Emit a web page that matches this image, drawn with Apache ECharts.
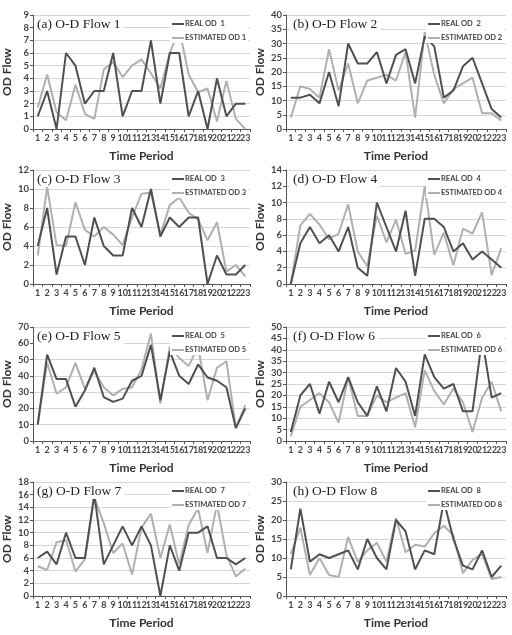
<!DOCTYPE html>
<html>
<head>
<meta charset="utf-8">
<script src="https://cdn.jsdelivr.net/npm/echarts@6/dist/echarts.min.js"></script>
<style>
  html, body { margin: 0; padding: 0; background: #fff; }
  #chart { width: 512px; height: 635px; }
</style>
</head>
<body>
<div id="chart"></div>
<script>
const periods = ['1','2','3','4','5','6','7','8','9','10','11','12','13','14','15','16','17','18','19','20','21','22','23']

const real1 = [1,3,0,6,5,2,3,3,6,1,3,3,7,2,6,6,1,3,0,4,1,2,2]
const est1  = [1.7,4.3,1.3,0.7,3.5,1.2,0.8,4.7,5.3,4.1,5.0,5.5,4.4,3.2,6.0,7.9,4.3,2.9,3.2,0.6,3.8,0.8,0]
const real2 = [11,11,12,9,20,8,30,23,23,27,16,26,28,16,32.5,29,11,13.5,22,25,16,7,4]
const est2  = [4,15,14,11,28,13.5,23,9,17,18,19,17,27,4,34,19,9,14,16,18,5.5,5.5,3]
const real3 = [4,8,1,5,5,2,7,4,3,3,8,6,10,5,7,6,7,7,0,3,1,1,2]
const est3  = [3,10.2,4.1,4,8.6,5.7,5,6,5.2,4.1,7,9.5,9.6,5.2,8.3,9.1,7.5,6.8,4.6,6.5,1.3,2,0.8]
const real4 = [0,5,7,5,6,4,7,2,1,10,7,4,9,1,8,8,7,4,5,3,4,3,2]
const est4  = [0,7.2,8.6,7.3,5.5,6.2,9.8,4,2.2,8.4,5.1,7.9,3.7,4.1,12,3.6,6.3,2.3,6.8,6.2,8.8,1.1,4.4]
const real5 = [10,53,38,38,21,31,45,27,24,26,37,40,59,25,55,40,35,47,39,37,33,8,20]
const est5  = [10,48,29,33,48,32,43,33,28,32,33,44,66,23,58,51,46,58,25,45,49,8,22]
const real6 = [4,20,25,12,26,17,28,17,11,24,13,32,26,11,38,28,23,25,13,13,45,19,21]
const est6  = [2,15,18,21,17,8,28,11,11,20,17,19,21,6,31,22,16,23,17,4,19,26,13]
const real7 = [6,7,5,10,6,6,16,5,8,11,8,11,8,0,8,4,10,10,11,6,6,5,6]
const est7  = [4.7,4.1,8.5,8.8,3.9,5.8,15.5,11.5,6.8,8.3,3.4,10.8,13,6,11.3,5,11.2,13.8,6.8,14.5,6.5,3.1,4.3]
const real8 = [7,23,9,11,10,11,12,7,15,10,7,20,17,7,12,11,25,15,8,7,12,5,8]
const est8  = [11,18,5.5,10,5.5,5,15.5,9,12,14,9,20.5,11.5,13.5,13,16.5,18.5,16,6,9.5,11,4.5,5]

const panelTitles = ['(a) O-D Flow 1','(b) O-D Flow 2','(c) O-D Flow 3','(d) O-D Flow 4',
                     '(e) O-D Flow 5','(f) O-D Flow 6','(g) O-D Flow 7','(h) O-D Flow 8']
const yMax = [9,40,12,14,70,50,18,30]
const yStep = [1,5,2,2,10,5,2,5]
const reals = [real1,real2,real3,real4,real5,real6,real7,real8]
const ests = [est1,est2,est3,est4,est5,est6,est7,est8]

const realColor = '#505050'
const estColor = '#b0b0b0'
const sans = "Lato, 'Liberation Sans', sans-serif"
const colX = [0, 256]
const rowTop = [15, 170, 327, 482]

const grid = [], xAxis = [], yAxis = [], series = [], legend = [], title = []

panelTitles.forEach((t, i) => {
  const cx = colX[i % 2]
  const ry = rowTop[Math.floor(i / 2)]
  grid.push({ left: cx + 30, top: ry, width: 220, height: 114 })
  xAxis.push({
    type: 'category', gridIndex: i, data: periods, boundaryGap: true,
    name: 'Time Period', nameLocation: 'middle', nameGap: 21,
    nameTextStyle: { fontFamily: sans, fontWeight: 'bold', fontSize: 12, color: '#333' },
    axisLine: { lineStyle: { color: '#555' } },
    axisTick: { show: true, length: 3, lineStyle: { color: '#555' } },
    axisLabel: { interval: 0, fontSize: 9, fontWeight: 'bold', margin: 5, color: '#444', fontFamily: sans }
  })
  yAxis.push({
    type: 'value', gridIndex: i, min: 0, max: yMax[i], interval: yStep[i],
    name: 'OD Flow', nameLocation: 'middle', nameGap: 20, nameRotate: 90,
    nameTextStyle: { fontFamily: sans, fontWeight: 'bold', fontSize: 12, color: '#333' },
    axisLine: { show: true, lineStyle: { color: '#555' } },
    axisTick: { show: true, length: 3, lineStyle: { color: '#555' } },
    axisLabel: { fontSize: 9.5, fontWeight: 'bold', margin: 4, color: '#444', fontFamily: sans },
    splitLine: { lineStyle: { color: '#d6d6d6' } }
  })
  const n = i + 1
  series.push({
    name: 'ESTIMATED OD ' + n, type: 'line', xAxisIndex: i, yAxisIndex: i,
    data: ests[i], symbol: 'none', lineStyle: { color: estColor, width: 2 }, itemStyle: { color: estColor }
  })
  series.push({
    name: 'REAL OD  ' + n, type: 'line', xAxisIndex: i, yAxisIndex: i,
    data: reals[i], symbol: 'none', lineStyle: { color: realColor, width: 2 }, itemStyle: { color: realColor }
  })
  legend.push({
    data: ['REAL OD  ' + n, 'ESTIMATED OD ' + n],
    orient: 'vertical', left: cx + 170, top: ry + 4,
    icon: 'rect', itemWidth: 12, itemHeight: 2, itemGap: 6,
    padding: [1, 2], backgroundColor: '#fff',
    textStyle: { fontFamily: sans, fontWeight: 'bold', fontSize: 7.5, color: '#444', padding: [0, 0, 0, -4] }
  })
  title.push({
    text: t, left: cx + 34, top: ry + 1, padding: [1, 3],
    backgroundColor: '#fff',
    textStyle: { fontFamily: "'Liberation Serif', serif", fontWeight: 'normal', fontSize: 13.5, color: '#222' }
  })
})

const myChart = echarts.init(document.getElementById('chart'))
myChart.setOption({
  backgroundColor: '#fff',
  animation: false,
  title, legend, grid, xAxis, yAxis, series
})
</script>
</body>
</html>
